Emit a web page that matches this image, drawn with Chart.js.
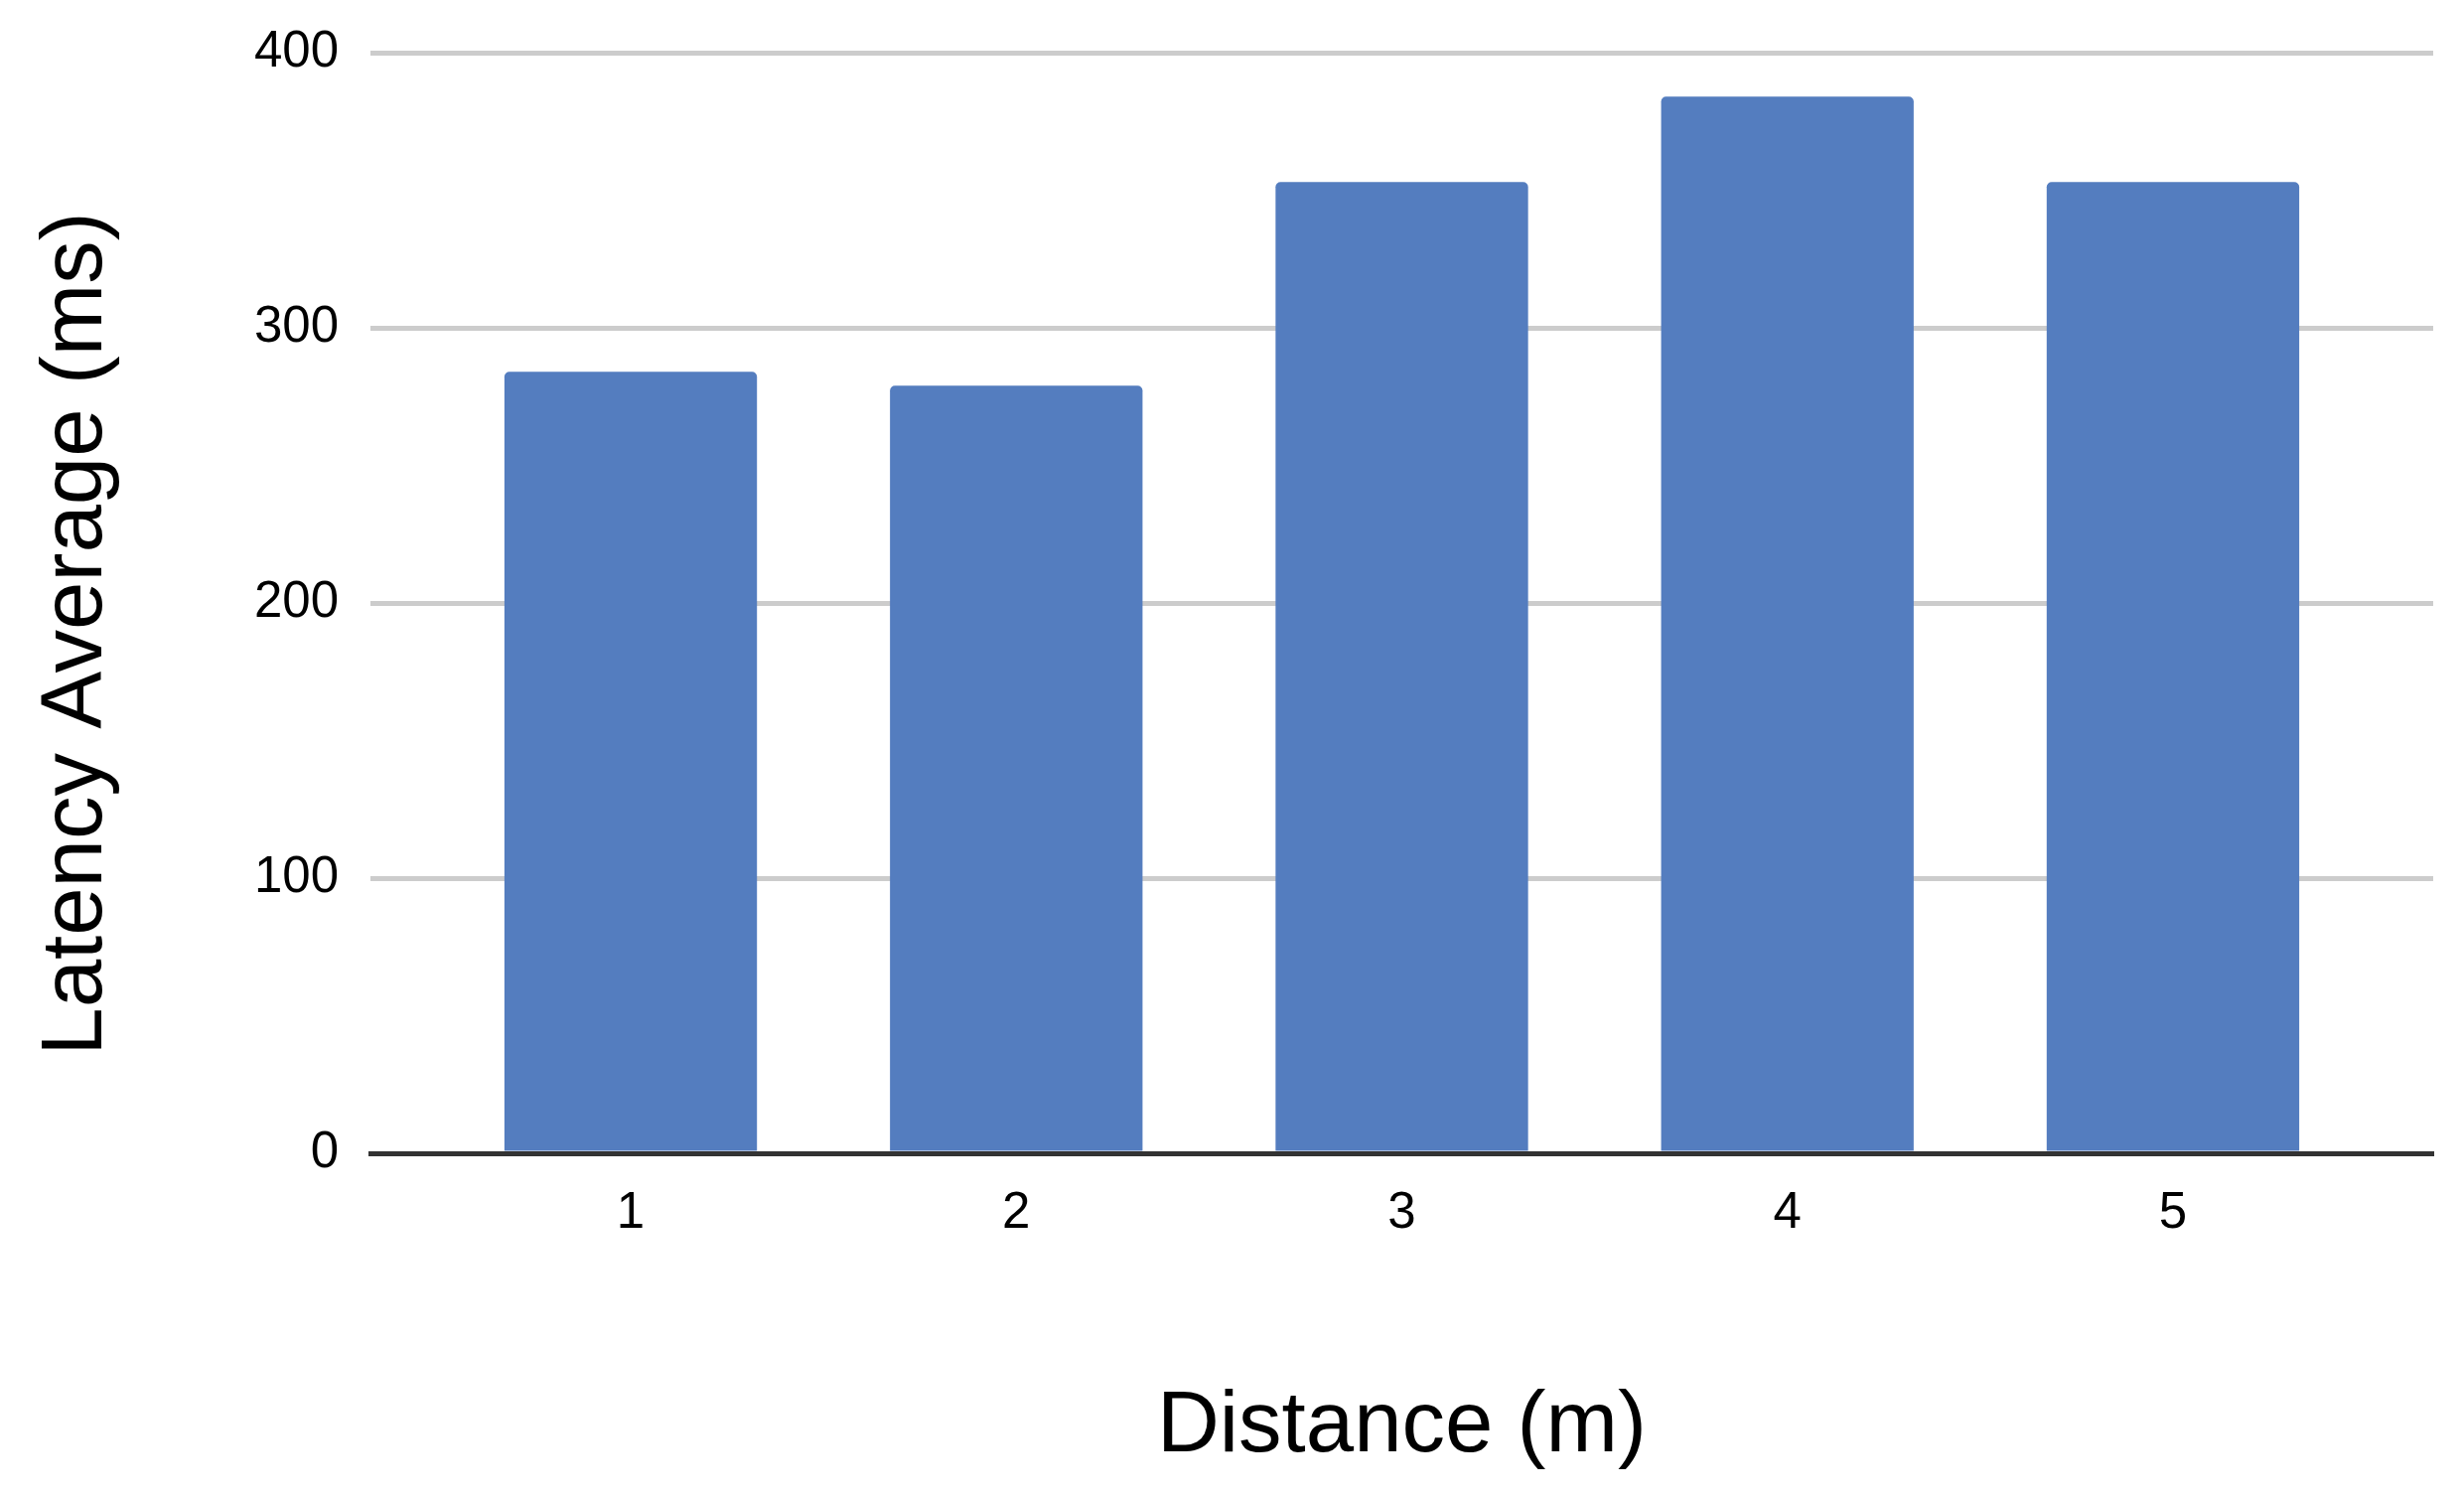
<!DOCTYPE html>
<html>
<head>
<meta charset="utf-8">
<title>Latency Average by Distance</title>
<script src="https://cdn.jsdelivr.net/npm/chart.js@4.4.1/dist/chart.umd.min.js"></script>
<style>
  html, body { margin: 0; padding: 0; background: #ffffff; }
  #wrap { width: 2481px; height: 1507px; }
</style>
</head>
<body>
<div id="wrap"><canvas id="myChart" width="2481" height="1507"></canvas></div>
<script>
// chart data
var distances = [1, 2, 3, 4, 5];
var latencyAvg = [284, 279, 353, 384, 353];
var yTicks = [0, 100, 200, 300, 400];

var xTitle = 'Distance (m)';
var yTitle = 'Latency Average (ms)';

var fontFamily = "'Liberation Sans', Arial, sans-serif";

// y title is drawn by hand, a bit below the middle of the plot like the original
var yTitlePlugin = {
  id: 'yTitle',
  afterDraw: function(chart) {
    var ctx = chart.ctx;
    ctx.save();
    ctx.translate(102, 638);
    ctx.rotate(-Math.PI / 2);
    ctx.font = '87px ' + fontFamily;
    ctx.fillStyle = '#000000';
    ctx.textAlign = 'center';
    ctx.textBaseline = 'alphabetic';
    ctx.fillText(yTitle, 0, 0);
    ctx.restore();
  }
};

function createChart() {
  var ctx = document.getElementById('myChart');
  new Chart(ctx, {
    type: 'bar',
    data: {
      datasets: [{
        label: yTitle,
        data: distances.map(function(d, i) { return { x: d, y: latencyAvg[i] }; }),
        backgroundColor: '#547DBF',
        borderWidth: 0,
        borderRadius: { topLeft: 5, topRight: 5, bottomLeft: 0, bottomRight: 0 },
        borderSkipped: 'start',
        barPercentage: 0.655,
        categoryPercentage: 1
      }]
    },
    options: {
      responsive: false,
      animation: false,
      layout: { padding: { top: 53, right: 31, left: 0, bottom: 0 } },
      plugins: {
        legend: { display: false },
        tooltip: { enabled: false }
      },
      scales: {
        x: {
          type: 'linear',
          offset: false,
          min: 0.325,
          max: 5.675,
          afterBuildTicks: function(scale) {
            scale.ticks = distances.map(function(d) { return { value: d }; });
          },
          afterFit: function(scale) { scale.height = 346; },
          grid: { display: false, drawTicks: false, offset: false },
          border: { display: true, color: '#333333', width: 5 },
          ticks: {
            color: '#000000',
            padding: 30,
            font: { family: fontFamily, size: 51 },
            maxRotation: 0
          },
          title: {
            display: true,
            text: xTitle,
            color: '#000000',
            font: { family: fontFamily, size: 87 },
            padding: { top: 0, bottom: 18 }
          }
        },
        y: {
          min: 0,
          max: 400,
          afterBuildTicks: function(scale) {
            scale.ticks = yTicks.map(function(v) { return { value: v }; });
          },
          afterFit: function(scale) {
            scale.width = 373;
            scale.paddingTop = 0;
            scale.paddingBottom = 0;
          },
          grid: { color: '#CCCCCC', lineWidth: 5, drawTicks: false },
          border: { display: false },
          ticks: {
            color: '#000000',
            padding: 32,
            font: { family: fontFamily, size: 51 }
          }
        }
      }
    },
    plugins: [yTitlePlugin]
  });
}

createChart();
</script>
</body>
</html>
